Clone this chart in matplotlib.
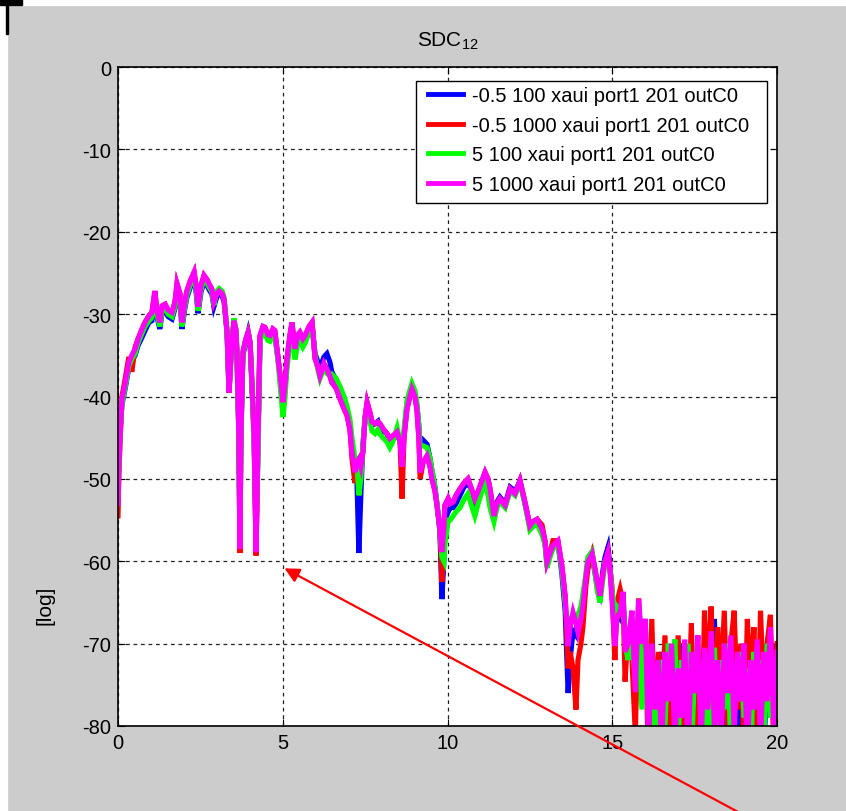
import numpy as np
import matplotlib
matplotlib.use("Agg")
import matplotlib.pyplot as plt
from matplotlib.patches import Rectangle

plt.rcParams['font.family'] = ['Liberation Sans', 'DejaVu Sans']
plt.rcParams['axes.unicode_minus'] = False

# frequency axis [GHz], fine sampling through the smooth part of the response
freq_main = [
    0.00, 0.03, 0.06, 0.12, 0.21, 0.33, 0.42, 0.52, 0.61, 0.73, 0.82, 0.94, 1.03, 1.12, 1.18,
    1.27, 1.34, 1.43, 1.52, 1.64, 1.73, 1.79, 1.88, 1.94, 2.03, 2.09, 2.19, 2.31, 2.37, 2.43,
    2.52, 2.61, 2.70, 2.76, 2.85, 2.91, 3.00, 3.07, 3.16, 3.22, 3.31, 3.37, 3.43, 3.52, 3.58,
    3.61, 3.67, 3.70, 3.73, 3.79, 3.88, 3.95, 4.01, 4.07, 4.13, 4.19, 4.25, 4.31, 4.40, 4.46,
    4.55, 4.61, 4.70, 4.76, 4.86, 4.95, 5.01, 5.07, 5.13, 5.22, 5.28, 5.37, 5.46, 5.52, 5.61,
    5.68, 5.80, 5.89, 5.98, 6.07, 6.13, 6.25, 6.34, 6.43, 6.49, 6.62, 6.74, 6.86, 6.95, 7.04,
    7.10, 7.19, 7.25, 7.31, 7.37, 7.43, 7.50, 7.56, 7.65, 7.71, 7.80, 7.89, 7.95, 8.04, 8.16,
    8.25, 8.34, 8.47, 8.56, 8.62, 8.68, 8.77, 8.86, 8.92, 9.01, 9.07, 9.13, 9.17, 9.26, 9.38,
    9.47, 9.53, 9.62, 9.68, 9.77, 9.83, 9.89, 9.92, 10.02, 10.08, 10.17, 10.26, 10.38, 10.50, 10.62,
    10.71, 10.83, 10.93, 11.02, 11.14, 11.23, 11.29, 11.41, 11.50, 11.59, 11.75, 11.90, 12.05, 12.20, 12.35,
    12.50, 12.59, 12.72, 12.87, 12.96, 13.02, 13.11, 13.20, 13.35, 13.47, 13.57, 13.66, 13.72, 13.81, 13.90,
    13.96, 14.05, 14.11, 14.20, 14.26, 14.39, 14.48, 14.54, 14.63, 14.72, 14.78, 14.87, 14.93, 14.99, 15.08,
    15.14, 15.24, 15.33, 15.39, 15.48, 15.54,
]

# noisy high-frequency part, sampled every 0.1 GHz
freq_tail = [
    15.6, 15.7, 15.8, 15.9, 16.0, 16.1, 16.2, 16.3, 16.4, 16.5, 16.6, 16.7, 16.8, 16.9, 17.0,
    17.1, 17.2, 17.3, 17.4, 17.5, 17.6, 17.7, 17.8, 17.9, 18.0, 18.1, 18.2, 18.3, 18.4, 18.5,
    18.6, 18.7, 18.8, 18.9, 19.0, 19.1, 19.2, 19.3, 19.4, 19.5, 19.6, 19.7, 19.8, 19.9, 20.0,
]

# -0.5 100
blue_main = [
    -51.0, -47.0, -44.5, -41.0, -39.2, -36.5, -35.6, -35.0, -33.8, -32.8, -32.0, -31.0, -30.8, -28.0, -30.3,
    -31.8, -29.8, -29.6, -30.3, -30.6, -29.3, -27.1, -28.3, -31.8, -29.3, -28.0, -26.8, -25.7, -27.3, -29.9,
    -27.3, -26.1, -26.5, -27.0, -27.6, -29.1, -27.9, -27.6, -27.8, -28.5, -32.2, -39.5, -35.0, -30.8, -32.0,
    -35.0, -45.0, -58.5, -45.0, -35.0, -33.4, -32.2, -33.5, -39.5, -44.0, -58.0, -45.0, -33.0, -32.0, -32.1,
    -33.0, -33.1, -32.3, -32.5, -35.5, -39.0, -41.5, -39.0, -35.8, -33.0, -31.5, -34.8, -33.0, -32.7, -33.5,
    -33.0, -31.9, -31.3, -34.8, -35.8, -36.5, -35.2, -34.8, -35.8, -37.0, -38.0, -39.5, -40.8, -41.8, -43.5,
    -46.0, -48.5, -50.0, -59.0, -52.0, -46.0, -42.5, -41.0, -42.5, -43.5, -43.3, -43.0, -43.8, -44.2, -44.5,
    -45.3, -44.8, -44.5, -45.5, -47.0, -44.5, -41.0, -39.5, -38.8, -39.7, -41.0, -43.5, -46.0, -45.3, -45.8,
    -47.5, -49.0, -51.0, -53.0, -56.5, -64.6, -60.0, -55.0, -54.0, -53.5, -53.5, -53.0, -52.0, -51.0, -50.5,
    -51.2, -52.8, -52.0, -51.0, -49.8, -50.8, -52.0, -54.5, -52.8, -52.2, -53.0, -51.0, -51.5, -50.3, -53.0,
    -55.8, -55.3, -55.2, -56.5, -57.8, -60.5, -59.3, -58.3, -57.7, -61.5, -66.0, -76.0, -72.0, -68.5, -69.0,
    -67.0, -66.0, -65.0, -62.0, -60.0, -59.5, -61.5, -63.0, -64.0, -61.0, -59.5, -58.3, -60.5, -64.0, -68.0,
    -66.5, -67.0, -64.0, -70.0, -69.0, -68.0,
]
blue_tail = [
    -69, -78, -66, -74, -67, -80, -72, -76, -84, -71, -78, -73, -82, -71, -77,
    -70, -83, -74, -79, -71, -85, -72, -78, -70, -84, -67, -79, -72, -82, -71,
    -76, -70, -83, -72, -78, -71, -80, -73, -76, -70, -84, -72, -77, -70, -79,
]

# -0.5 1000
red_main = [
    -54.5, -49.0, -46.0, -40.0, -38.0, -35.2, -37.0, -34.0, -33.0, -31.8, -31.0, -30.2, -29.8, -27.2, -29.5,
    -31.0, -29.0, -28.8, -29.5, -29.8, -28.5, -26.3, -27.5, -31.0, -28.5, -27.2, -26.0, -24.9, -26.5, -29.1,
    -26.5, -25.3, -25.8, -26.3, -27.0, -28.5, -27.5, -27.2, -27.5, -28.2, -32.2, -39.5, -35.0, -30.8, -32.0,
    -34.6, -45.0, -59.0, -45.0, -34.6, -33.0, -32.2, -33.5, -38.7, -45.0, -59.3, -45.0, -32.6, -31.5, -31.6,
    -32.5, -32.6, -31.8, -32.0, -35.4, -38.5, -40.7, -38.5, -35.4, -32.5, -31.0, -34.2, -32.5, -32.2, -33.0,
    -32.6, -31.5, -31.0, -35.4, -36.5, -37.5, -36.0, -36.7, -37.5, -38.3, -39.0, -40.3, -41.5, -42.3, -44.0,
    -47.5, -50.5, -48.0, -47.6, -49.0, -46.8, -42.5, -40.7, -42.0, -43.1, -43.3, -43.1, -43.3, -43.9, -44.5,
    -45.1, -44.8, -44.3, -45.5, -52.4, -45.0, -41.5, -40.0, -39.1, -40.0, -41.5, -45.0, -50.0, -48.0, -47.2,
    -48.5, -50.0, -51.5, -53.2, -56.0, -62.5, -56.0, -53.2, -52.4, -53.0, -52.8, -52.0, -51.2, -50.5, -50.0,
    -51.0, -52.4, -51.5, -50.5, -49.2, -50.0, -51.2, -54.5, -53.0, -52.4, -53.2, -51.2, -51.8, -50.2, -52.8,
    -55.7, -55.2, -54.9, -55.6, -57.5, -60.1, -59.0, -57.5, -57.5, -60.5, -64.2, -73.0, -71.0, -73.0, -78.0,
    -72.0, -70.0, -68.0, -63.0, -61.0, -59.1, -61.0, -62.5, -64.2, -61.5, -60.1, -58.9, -61.0, -63.0, -72.0,
    -65.0, -63.4, -65.0, -74.6, -68.0, -70.0,
]
red_tail = [
    -72, -81, -64.5, -76, -68, -85, -67, -82, -71, -79, -69, -84, -72, -78, -69,
    -83, -71, -80, -67.5, -82, -72, -85, -66, -75, -65.5, -83, -68, -76, -66, -81,
    -70, -66, -78, -70, -84, -67, -75, -68, -82, -66, -77, -70, -66.5, -83, -70,
]

# 5 100
green_main = [
    -52.0, -48.0, -45.0, -40.8, -39.0, -36.3, -35.4, -34.8, -33.5, -32.3, -31.5, -30.8, -30.4, -27.8, -30.0,
    -31.5, -29.5, -29.3, -30.0, -30.3, -29.0, -26.8, -28.0, -31.5, -29.0, -27.7, -26.5, -25.4, -27.0, -29.6,
    -27.0, -25.8, -26.2, -26.7, -27.3, -28.9, -27.2, -26.9, -27.2, -28.0, -32.2, -39.0, -35.0, -30.5, -32.0,
    -35.0, -45.0, -58.0, -45.0, -34.8, -33.0, -32.2, -33.5, -38.7, -46.0, -55.0, -48.0, -33.3, -32.2, -32.3,
    -33.2, -33.3, -32.5, -32.7, -35.8, -40.0, -42.5, -40.0, -36.5, -33.5, -32.0, -35.5, -33.5, -33.2, -34.0,
    -33.5, -32.2, -31.5, -35.0, -36.8, -37.8, -36.5, -37.2, -37.5, -37.3, -37.8, -38.8, -40.0, -41.2, -42.8,
    -45.0, -47.5, -48.0, -52.0, -50.0, -46.0, -42.5, -41.5, -43.0, -44.2, -44.5, -44.0, -44.6, -45.0, -45.5,
    -46.2, -45.5, -43.8, -45.5, -47.0, -44.0, -40.5, -39.2, -38.4, -39.3, -40.7, -43.5, -46.0, -46.0, -46.2,
    -47.5, -49.0, -51.0, -53.0, -56.0, -59.5, -60.0, -58.0, -55.0, -55.0, -54.5, -54.0, -53.5, -52.5, -51.8,
    -53.0, -54.5, -53.0, -51.8, -50.5, -52.0, -53.5, -55.2, -53.5, -52.8, -53.5, -51.5, -52.0, -50.5, -53.0,
    -56.2, -55.8, -55.5, -56.8, -58.0, -60.8, -59.5, -58.5, -58.0, -61.0, -65.0, -69.0, -67.0, -66.5, -67.0,
    -66.5, -65.5, -64.0, -61.5, -59.5, -58.8, -61.5, -63.5, -65.0, -62.0, -60.0, -59.5, -61.0, -63.5, -66.0,
    -65.5, -66.0, -64.5, -70.0, -72.0, -68.5,
]
green_tail = [
    -70, -74, -68, -78, -69, -77, -71, -83, -74, -72, -80, -70, -75, -69.5, -82,
    -72, -78, -70, -84, -73, -70, -79, -72, -85, -74, -70.5, -81, -72, -78, -70,
    -83, -73, -77, -71, -79, -73, -84, -71, -76, -72, -82, -70, -79, -74, -81,
]

# 5 1000
magenta_main = [
    -53.0, -48.0, -45.0, -40.3, -38.5, -35.8, -35.0, -34.2, -33.0, -31.8, -31.0, -30.2, -29.8, -27.2, -29.5,
    -31.0, -29.0, -28.8, -29.5, -29.8, -28.5, -26.3, -27.5, -31.0, -28.5, -27.2, -26.0, -24.9, -26.5, -29.1,
    -26.5, -25.3, -25.8, -26.3, -27.0, -28.5, -27.5, -27.2, -27.5, -28.2, -32.2, -39.5, -35.0, -30.8, -32.0,
    -34.6, -45.0, -58.5, -45.0, -34.6, -33.0, -32.2, -33.5, -38.7, -45.0, -58.9, -45.0, -32.6, -31.5, -31.6,
    -32.5, -32.6, -31.8, -32.0, -35.4, -38.5, -40.7, -38.5, -35.4, -32.5, -31.0, -34.2, -32.5, -32.2, -33.0,
    -32.6, -31.5, -31.0, -35.4, -36.5, -37.5, -36.0, -36.7, -37.5, -38.3, -39.0, -40.3, -41.5, -42.3, -44.0,
    -46.8, -49.2, -48.0, -47.6, -48.5, -46.8, -42.5, -40.7, -42.0, -43.1, -43.3, -43.1, -43.3, -43.9, -44.5,
    -45.1, -44.8, -44.3, -45.5, -48.5, -45.0, -41.5, -40.0, -39.1, -40.0, -41.5, -45.0, -49.2, -48.0, -47.2,
    -48.5, -50.0, -51.5, -53.2, -56.0, -58.9, -56.0, -53.2, -52.4, -53.0, -52.8, -52.0, -51.2, -50.5, -50.0,
    -51.0, -52.4, -51.5, -50.5, -49.2, -50.0, -51.2, -54.5, -53.0, -52.4, -53.2, -51.2, -51.8, -50.2, -52.8,
    -55.7, -55.2, -54.9, -56.1, -57.5, -60.1, -59.0, -58.1, -57.5, -60.5, -64.2, -70.3, -68.0, -66.2, -67.5,
    -68.6, -67.0, -65.4, -62.0, -60.1, -59.1, -61.0, -62.5, -64.2, -61.5, -60.1, -58.9, -61.0, -64.6, -70.3,
    -67.0, -66.2, -63.7, -71.0, -70.0, -67.8,
]
magenta_tail = [
    -66.0, -75.9, -64.6, -70.0, -67.0, -82, -70.0, -78, -72, -83, -71, -77, -70, -82, -73,
    -79, -69.5, -84, -71, -76, -69, -82, -70.5, -78, -68.5, -80, -72, -83, -70, -76,
    -69, -81, -71, -77, -70, -84, -72, -78, -69.5, -82, -71, -77, -68, -80, -71,
]

series_labels = [
    '-0.5 100 xaui port1 201 outC0',
    '-0.5 1000 xaui port1 201 outC0',
    '5 100 xaui port1 201 outC0',
    '5 1000 xaui port1 201 outC0',
]
series_colors = ['#0000ff', '#ff0000', '#00ff00', '#ff00ff']

W, H = 846, 812
fig = plt.figure(figsize=(W / 100, H / 100), dpi=100, facecolor='#cccccc')

# white margin strips and the small black corner mark
fig.patches.append(Rectangle((0, 0), 7 / W, 1, transform=fig.transFigure, color='white', zorder=0))
fig.patches.append(Rectangle((0, 1 - 6 / H), 1, 6 / H, transform=fig.transFigure, color='white', zorder=0))
fig.patches.append(Rectangle((0, 1 - 6 / H), 22 / W, 6 / H, transform=fig.transFigure, color='black', zorder=1))
fig.patches.append(Rectangle((6 / W, 1 - 35 / H), 1.5 / W, 35 / H, transform=fig.transFigure, color='black', zorder=1))

ax = fig.add_axes([118 / W, (H - 727) / H, 659 / W, 659 / H])
ax.set_facecolor('white')

freq = freq_main + freq_tail
all_series = [
    blue_main + blue_tail,
    red_main + red_tail,
    green_main + green_tail,
    magenta_main + magenta_tail,
]
for vals, lab, col in zip(all_series, series_labels, series_colors):
    ax.plot(freq, vals, color=col, linewidth=3.7, label=lab, solid_joinstyle='miter')

ax.set_xlim(0, 20)
ax.set_ylim(-80, 0)
ax.set_xticks([0, 5, 10, 15, 20])
ax.set_yticks([0, -10, -20, -30, -40, -50, -60, -70, -80])
ax.tick_params(direction='in', length=5, width=0.8, top=True, right=True,
               labelsize=14.5, pad=5, colors='black')
ax.grid(True, color='#222222', linestyle=(0, (3, 3)), linewidth=0.9)
for sp in ax.spines.values():
    sp.set_linewidth(1.2)
    sp.set_color('black')

# legend box drawn separately so its margins can be set exactly
legend_box = Rectangle((416 / W, (H - 204) / H), 351 / W, 122 / H, transform=fig.transFigure,
                       facecolor='white', edgecolor='black', linewidth=1.0, zorder=5, clip_on=False)
ax.add_patch(legend_box)
leg = ax.legend(loc='upper left', bbox_to_anchor=(428 / W, (H - 87) / H),
                bbox_transform=fig.transFigure, fontsize=14.5, frameon=False,
                handlelength=1.75, handletextpad=0.45,
                labelspacing=0.53, borderpad=0, borderaxespad=0)
leg.set_zorder(6)
for ln in leg.get_lines():
    ln.set_linewidth(3.5)

fig.text(447.5 / W, (H - 47) / H, r'$\mathregular{SDC_{12}}$', ha='center', va='baseline', fontsize=15)
fig.text(45 / W, (H - 605) / H, '[log]', rotation=90, ha='center', va='center', fontsize=15)

# pointer to the x = 5 grid line
ax.annotate('', xy=(282 / W, (H - 568) / H), xycoords='figure fraction',
            xytext=(740 / W, -2 / H), textcoords='figure fraction',
            arrowprops=dict(arrowstyle='-|>', color='#ff0000', lw=1.6, mutation_scale=22),
            annotation_clip=False)

fig.savefig('out.png', dpi=100, facecolor=fig.get_facecolor())
